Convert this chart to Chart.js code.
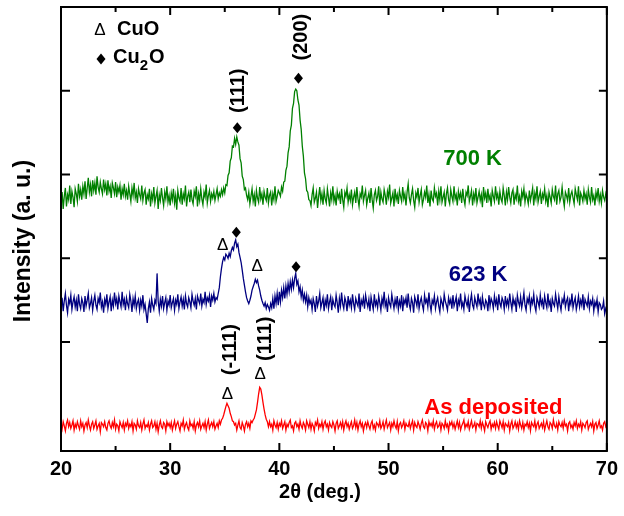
<!DOCTYPE html>
<html>
<head>
<meta charset="utf-8">
<script src="https://cdn.jsdelivr.net/npm/chart.js@4/dist/chart.umd.min.js"></script>
<style>
  body { margin: 0; background: #fff; }
  canvas { display: block; }
</style>
</head>
<body>
<canvas id="xrd" width="624" height="516"></canvas>
<script>
// 2θ grid of the scans (deg.)
const thetaStart = 20
const thetaStep = 0.1

// intensities (a. u., curves stacked with offsets)
const asDeposited = [
  2, -4, 5, 0, -6, 3, 7, -1, 4, -3, 1, 6, -5, 2, -2, 5, 0, -4, 6, -1,
  3, -6, 1, 4, -2, 7, 0, -5, 2, 5, -3, 1, 6, -4, 0, 3, -7, 4, 2, -1,
  5, -2, -5, 3, 6, 0, -3, 4, -1, 7, -4, 2, 0, -6, 5, 1, -2, 4, -5, 3,
  0, 6, -3, 2, -1, 5, -6, 3, 1, -4, 6, 0, -2, 4, -5, 2, 7, -3, 1, -1,
  4, -5, 2, 6, -2, 0, 5, -4, 3, -7, 1, 6, -1, -3, 4, 2, -6, 5, 0, 3,
  -2, 4, -5, 1, 6, -3, 2, 5, -1, -6, 3, 0, 7, -4, 1, 4, -2, -5, 6, 0,
  2, -3, 5, -6, 1, 4, -1, 6, -4, 0, 3, -2, 5, -5, 2, 7, -3, 1, 4, -1,
  5, -4, 0, 3, -2, 6, 2, 7, 9, 13, 18, 23, 27, 24, 21, 15, 11, 6, 5, 1,
  3, -5, 1, 6, -2, -4, 4, 0, -6, 2, 5, -1, 3, -3, 6, 4, 7, 9, 14, 19,
  28, 38, 46, 44, 37, 28, 20, 13, 8, 5, -1, 5, -1, 2, -5, 6, 1, -2, 4, -4,
  3, 0, 6, -3, 1, 5, -5, 2, -1, 4, 7, -2, 0, -6, 3, 5, -1, 2, -4, 6,
  0, -3, 4, 1, -5, 6, 2, -2, 5, -4, 3, 0, -6, 4, 1, 7, -3, 2, -1, 5,
  -4, 3, 6, -1, 2, -5, 4, 0, -2, 5, 1, -6, 3, 6, -3, 0, 4, -2, 5, -5,
  2, 6, -1, 3, -4, 1, 5, -3, 0, 7, -2, 4, -5, 2, 6, -1, 3, -6, 1, 4,
  -2, 5, 0, -4, 3, 6, -3, 1, -5, 4, 2, -1, 6, -3, 0, 5, -4, 2, 7, -2,
  1, 4, -5, 3, -1, 6, 0, -3, 5, -6, 2, 4, -2, 1, 6, -4, 3, 0, -1, 5,
  -3, 2, 6, -5, 4, 0, -2, 5, 1, -4, 3, 7, -1, -3, 4, 2, -6, 5, 0, 3,
  -1, 6, -4, 2, 5, -2, 0, 4, -5, 3, 1, -3, 6, -1, 2, -6, 4, 1, 5, -2,
  3, -4, 1, 6, -2, 4, -5, 0, 3, 7, -3, 2, -1, 5, -4, 1, 6, -2, 0, 4,
  -5, 3, 2, -1, 6, -3, 4, 0, -6, 5, 1, -2, 3, 6, -4, 2, -1, 4, -3, 5,
  0, -4, 6, 2, -2, 5, -5, 3, 1, -1, 4, -6, 2, 6, -3, 0, 5, -2, 3, -4,
  6, 1, -3, 4, -5, 2, 0, 5, -2, 3, -6, 4, 1, -1, 6, -4, 2, 5, -3, 0,
  3, -2, 5, -5, 1, 6, -1, -4, 4, 2, -3, 7, 0, -2, 3, -5, 5, 1, -1, 4,
  -3, 6, 0, 2, -6, 3, 5, -2, 1, -4, 4, 0, 6, -3, 2, -1, 5, -5, 3, 1,
  -2, 4, 6, -4, 0, 3, -1, 5, -6, 2, 4, -3, 1, 6, -2, 0, -5, 3, 5, -1,
  2
]

const k623 = [
  141, 153, 137, 149, 158, 144, 135, 151, 146, 156, 139, 148, 154, 142, 150, 137, 157, 145, 140, 152,
  147, 136, 155, 143, 150, 158, 141, 146, 153, 138, 149, 156, 144, 139, 152, 147, 159, 142, 148, 135,
  151, 145, 157, 140, 148, 154, 137, 150, 143, 159, 146, 152, 139, 155, 148, 142, 160, 145, 151, 138,
  153, 146, 141, 157, 149, 136, 152, 144, 155, 140, 147, 151, 138, 150, 143, 156, 139, 145, 134, 123,
  140, 148, 135, 152, 144, 139, 150, 146, 182, 149, 137, 151, 143, 155, 140, 147, 153, 138, 149, 144,
  156, 141, 147, 152, 138, 150, 145, 157, 140, 148, 154, 143, 151, 139, 155, 146, 142, 153, 148, 141,
  157, 149, 144, 152, 139, 155, 150, 146, 158, 143, 151, 147, 160, 145, 153, 149, 156, 142, 155, 150,
  158, 148, 153, 151,
  158, 165, 178, 188, 196, 201, 198, 205, 203, 200, 206, 202, 209, 213, 210, 218, 222, 214, 217, 207,
  201, 195, 186, 176, 168, 160, 153, 149, 146, 150, 155, 162, 166, 170, 175, 171, 174, 167, 162, 155,
  150, 146, 143, 147, 140, 145, 142, 138, 146, 141, 152, 140, 155, 146, 158, 144, 160, 148, 162, 153,
  165, 152, 167, 157, 170, 160, 172, 163, 174, 165, 176, 182, 169, 173, 160, 166, 154, 162, 150, 157,
  148, 156, 142, 153, 146, 150,
  139, 152, 146, 136, 155, 143, 149, 158, 141, 147, 153, 137, 150, 144, 157, 140, 148, 154, 138, 151,
  145, 142, 156, 147, 135, 152, 143, 159, 146, 140, 153, 148, 137, 155, 144, 150, 141, 157, 146, 139,
  152, 147, 143, 158, 136, 150, 145, 153, 140, 156, 148, 142, 151, 137, 154, 146, 139, 157, 144, 149,
  141, 155, 147, 138, 152, 145, 160, 143, 149, 136, 153, 146, 142, 157, 148, 140, 151, 144, 155, 139,
  149, 143, 156, 137, 151, 146, 153, 141, 158, 145, 139, 152, 147, 135, 154, 149, 143, 157, 140, 148,
  153, 144, 138, 156, 147, 151, 142, 159, 145, 137, 150, 146, 155, 140, 148, 153, 143, 136, 152, 147,
  141, 157, 149, 144, 138, 153, 146, 151, 140, 156, 143, 148, 154, 137, 150, 145, 158, 142, 147, 139,
  155, 148, 143, 152, 136, 149, 157, 144, 140, 153, 147, 142, 158, 146, 151, 138, 154, 145, 141, 150,
  147, 137, 156, 143, 152, 148, 140, 155, 145, 151, 138, 157, 146, 142, 153, 149, 139, 155, 144, 150,
  142, 158, 147, 139, 153, 145, 150, 136, 156, 148, 143, 154, 141, 149, 159, 144, 138, 152, 147, 155,
  140, 151, 146, 157, 143, 137, 153, 148, 142, 156, 145, 150, 139, 155, 147, 141, 158, 144, 149, 136,
  152, 146, 143, 157, 148, 140, 154, 145, 138, 151, 147, 156, 142, 149, 153, 137, 150, 145, 158, 141,
  148, 153, 139, 146, 155, 142, 150, 144, 157, 138, 151, 147, 143, 154, 140, 149, 145, 152, 137, 148,
  143, 151, 136, 147, 145, 139, 141, 149, 134, 140, 136
]

const k700 = [
  266, 279, 259, 274, 284, 262, 276, 270, 287, 265, 280, 273, 261, 283, 277, 268, 289, 274, 282, 270,
  286, 277, 292, 271, 284, 296, 279, 288, 274, 293, 281, 290, 276, 298, 285, 279, 291, 283, 277, 294,
  282, 289, 275, 293, 280, 286, 272, 290, 284, 277, 291, 273, 285, 279, 287, 270, 283, 276, 289, 274,
  281, 270, 286, 277, 268, 284, 275, 290, 272, 279, 266, 283, 276, 271, 287, 269, 278, 282, 264, 276,
  271, 283, 262, 277, 270, 285, 266, 274, 281, 259, 276, 269, 284, 272, 263, 279, 271, 286, 267, 275,
  263, 278, 270, 283, 266, 275, 258, 281, 272, 268, 284, 264, 277, 271, 287, 262, 274, 279, 267, 282,
  270, 265, 280, 274, 286, 262, 277, 269, 283, 271, 264, 279, 273, 288, 266, 275, 281, 268, 277, 272,
  280, 269, 276, 283, 271, 278, 274, 282,
  276, 284, 278, 288, 287, 299, 302, 316, 320, 334, 333, 343, 336, 345, 339, 335, 319, 314, 298, 294,
  282, 284, 275,
  270, 279, 265, 274, 283, 268, 276, 262, 281, 272, 267, 285, 271, 277, 264, 280, 273, 269, 284, 266,
  275, 279, 263, 277, 270, 286, 268, 274, 281,
  278, 274, 285, 280, 291, 292, 305, 310, 326, 333, 352, 359, 379, 385, 399, 402, 400, 389, 383, 365,
  354, 334, 322, 302, 295, 281, 279, 270, 269,
  263, 276, 284, 267, 272, 279, 260, 274, 285, 269, 277, 264, 281, 271, 266, 283, 273, 262, 278, 270,
  286, 268, 275, 263, 280, 272, 277, 265, 283, 270, 261, 279, 274, 284, 267, 276, 269, 282, 264, 273,
  279, 266, 285, 271, 262, 277, 273, 287, 268, 275, 281, 264, 272, 278, 266, 284, 270, 260, 276, 281,
  269, 274, 286, 263, 279, 271, 267, 282, 275, 264, 280, 273, 288, 266, 272, 278, 262, 283, 270, 276,
  265, 281, 274, 268, 285, 271, 277, 263, 279, 289, 272, 266, 276, 283, 269, 261, 278, 273, 284, 267,
  275, 282, 264, 270, 279, 273, 287, 266, 276, 262, 281, 271, 268, 284, 274, 278, 263, 280, 270, 286,
  267, 273, 279, 262, 277, 284, 270, 265, 282, 274, 268, 286, 271, 276, 263, 280, 272, 278, 266, 283,
  271, 264, 279, 275, 287, 268, 274, 281, 263, 277, 270, 284, 266, 273, 280, 269, 276, 261, 285, 272,
  278, 266, 283, 270, 275, 262, 281, 274, 268, 286, 272, 277, 264, 280, 271, 267, 284, 275, 263, 279,
  270, 285, 273, 266, 278, 282, 264, 276, 271, 287, 268, 274, 262, 280, 273, 283, 267, 277, 272, 265,
  281, 269, 276, 284, 263, 278, 271, 286, 267, 274, 280, 265, 277, 272, 283, 268, 275, 261, 279, 273,
  266, 282, 274, 270, 287, 264, 277, 281, 268, 273, 285, 271, 262, 279, 275, 269, 284, 267, 276, 280,
  272, 265, 283, 276, 270, 286, 263, 278, 274, 268, 281, 271, 277, 264, 282, 273, 267, 285, 270, 275,
  263, 279, 272, 284, 268, 276, 266, 281, 273, 269, 277, 271
]

const seriesNames = ["As deposited", "623 K", "700 K"]
const seriesColors = ["#ff0000", "#000080", "#008000"]

const xMajor = [20, 30, 40, 50, 60, 70]
const xMinor = [25, 35, 45, 55, 65]
const yTicks = [100, 200, 300, 400]

// peak markers: 2θ, intensity, phase
const peakMarks = [
  [36.15, 356, "cu2o"], [41.75, 415, "cu2o"],
  [34.8, 216, "cuo"], [36.06, 231, "cu2o"], [37.97, 191, "cuo"], [41.53, 190, "cu2o"],
  [35.24, 38, "cuo"], [38.25, 61, "cuo"]
]
// Miller indices (rotated)
const planeLabels = [
  [36.22, 400, "(111)"], [42.05, 464, "(200)"],
  [35.5, 91, "(-111)"], [38.72, 104, "(111)"]
]
// where each curve name sits
const nameSpots = [[59.6, 22], [58.2, 180], [57.7, 319]]

const FONT = "'Liberation Sans', Arial, sans-serif"

function toPoints(values) {
  return values.map((v, i) => ({ x: thetaStart + i * thetaStep, y: v }))
}

function diamond(ctx, px, py) {
  ctx.beginPath()
  ctx.moveTo(px, py - 5.5)
  ctx.lineTo(px + 4.5, py)
  ctx.lineTo(px, py + 5.5)
  ctx.lineTo(px - 4.5, py)
  ctx.closePath()
  ctx.fill()
}

const decorations = {
  id: "decorations",
  afterDraw(chart) {
    const { ctx, chartArea: a, scales: { x, y } } = chart
    ctx.save()
    ctx.fillStyle = "#000"
    ctx.strokeStyle = "#000"

    // frame + inward ticks on all four sides
    ctx.lineWidth = 2
    ctx.strokeRect(a.left, a.top, a.right - a.left, a.bottom - a.top)
    ctx.beginPath()
    const xt = (v, len) => {
      const px = x.getPixelForValue(v)
      ctx.moveTo(px, a.bottom); ctx.lineTo(px, a.bottom - len)
      ctx.moveTo(px, a.top); ctx.lineTo(px, a.top + len)
    }
    xMajor.forEach(v => xt(v, 8))
    xMinor.forEach(v => xt(v, 5))
    yTicks.forEach(v => {
      const py = y.getPixelForValue(v)
      ctx.moveTo(a.left, py); ctx.lineTo(a.left + 9, py)
      ctx.moveTo(a.right, py); ctx.lineTo(a.right - 8, py)
    })
    ctx.stroke()

    // axis titles
    ctx.textAlign = "center"
    ctx.textBaseline = "middle"
    ctx.font = "bold 20px " + FONT
    ctx.fillText("2θ (deg.)", 320, 492)
    ctx.save()
    ctx.translate(24, 241)
    ctx.rotate(-Math.PI / 2)
    ctx.font = "bold 23px " + FONT
    ctx.fillText("Intensity (a. u.)", 0, 0)
    ctx.restore()

    // phase markers
    peakMarks.forEach(([t, v, phase]) => {
      const px = x.getPixelForValue(t)
      const py = y.getPixelForValue(v)
      if (phase === "cu2o") {
        diamond(ctx, px, py)
      } else {
        ctx.font = "17px " + FONT
        ctx.fillText("Δ", px, py)
      }
    })

    ctx.font = "bold 20px " + FONT
    planeLabels.forEach(([t, v, txt]) => {
      ctx.save()
      ctx.translate(x.getPixelForValue(t), y.getPixelForValue(v))
      ctx.rotate(-Math.PI / 2)
      ctx.fillText(txt, 0, 0)
      ctx.restore()
    })

    // curve names
    ctx.font = "bold 22px " + FONT
    nameSpots.forEach(([t, v], i) => {
      ctx.fillStyle = seriesColors[i]
      ctx.fillText(seriesNames[i], x.getPixelForValue(t), y.getPixelForValue(v))
    })

    // legend box top-left
    ctx.fillStyle = "#000"
    ctx.font = "17px " + FONT
    ctx.fillText("Δ", a.left + 39, a.top + 23)
    diamond(ctx, a.left + 40, a.top + 52)
    ctx.textAlign = "left"
    ctx.textBaseline = "alphabetic"
    ctx.font = "bold 20px " + FONT
    ctx.fillText("CuO", a.left + 56, a.top + 28)
    ctx.fillText("Cu", a.left + 52, a.top + 56)
    const cuW = ctx.measureText("Cu").width
    ctx.font = "bold 15px " + FONT
    ctx.fillText("2", a.left + 52 + cuW, a.top + 63)
    const twoW = ctx.measureText("2").width
    ctx.font = "bold 20px " + FONT
    ctx.fillText("O", a.left + 53 + cuW + twoW, a.top + 56)

    ctx.restore()
  }
}

new Chart(document.getElementById("xrd"), {
  type: "line",
  data: {
    datasets: [asDeposited, k623, k700].map((vals, i) => ({
      label: seriesNames[i],
      data: toPoints(vals),
      borderColor: seriesColors[i],
      borderWidth: 1.3,
      pointRadius: 0,
      tension: 0
    }))
  },
  options: {
    responsive: false,
    animation: false,
    layout: { padding: { top: 7, right: 15, left: 0, bottom: 0 } },
    plugins: {
      legend: { display: false },
      tooltip: { enabled: false }
    },
    scales: {
      x: {
        type: "linear",
        min: 20,
        max: 70,
        afterFit: s => { s.height = 65 },
        border: { display: false },
        grid: { display: false, drawTicks: false },
        ticks: {
          stepSize: 10,
          padding: 6,
          color: "#000",
          font: { family: FONT, size: 20, weight: "bold" }
        }
      },
      y: {
        min: -30,
        max: 500,
        afterFit: s => { s.width = 61 },
        border: { display: false },
        grid: { display: false, drawTicks: false },
        ticks: { display: false }
      }
    }
  },
  plugins: [decorations]
})
</script>
</body>
</html>
